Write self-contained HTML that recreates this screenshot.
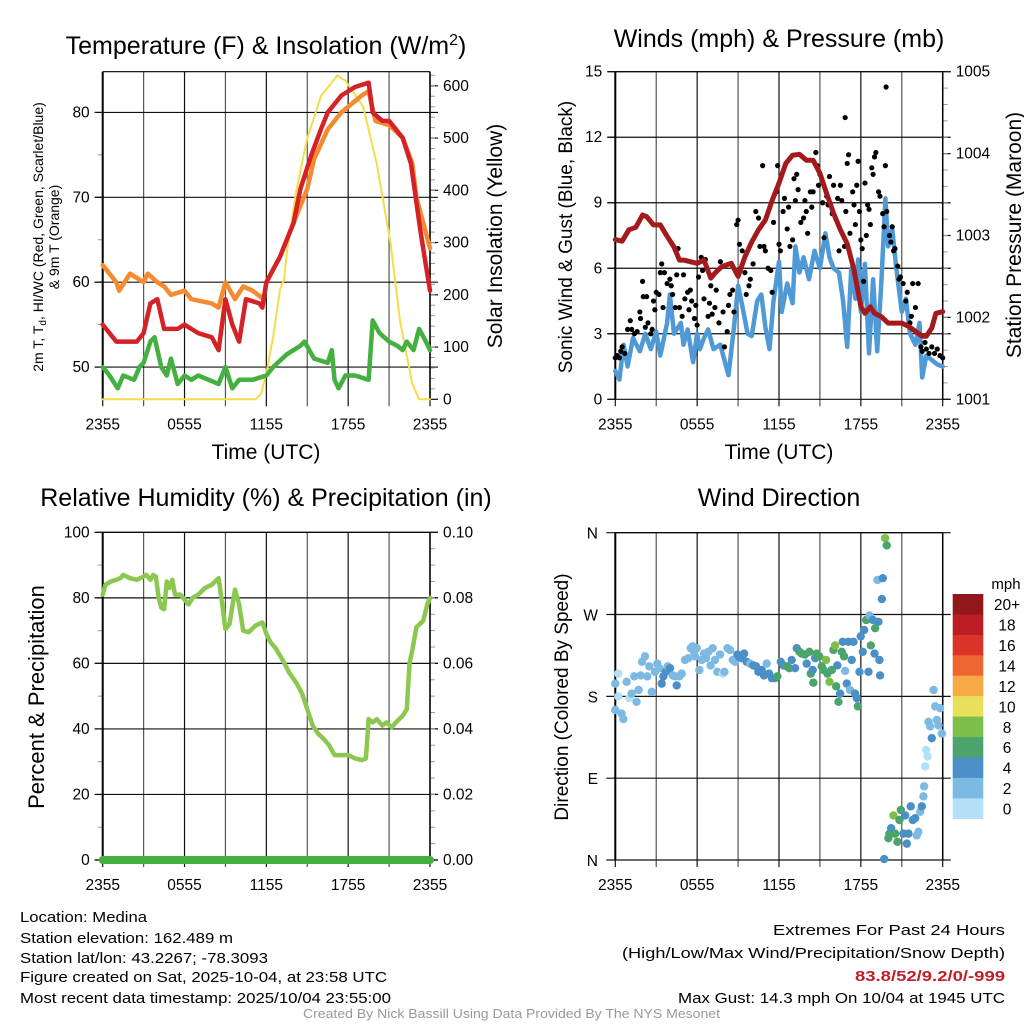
<!DOCTYPE html>
<html><head><meta charset="utf-8"><title>Medina Mesonet Meteogram</title>
<style>
html,body{margin:0;padding:0;background:#fff;}
svg{display:block;font-family:"Liberation Sans",Arial,sans-serif;}
</style></head>
<body>
<svg id="chart" width="1024" height="1024" viewBox="0 0 1024 1024" xmlns="http://www.w3.org/2000/svg">
<rect width="1024" height="1024" fill="#fff"/>
<g id="g1"></g>
<g id="g2"></g>
<g id="g3"></g>
<g id="g4"></g>
<text x="266" y="54" font-size="25" text-anchor="middle">Temperature (F) &amp; Insolation (W/m<tspan dy="-9" font-size="16">2</tspan><tspan dy="9">)</tspan></text>
<text x="779" y="47" font-size="25" text-anchor="middle">Winds (mph) &amp; Pressure (mb)</text>
<text x="266" y="506" font-size="25" text-anchor="middle">Relative Humidity (%) &amp; Precipitation (in)</text>
<text x="779" y="506" font-size="25" text-anchor="middle">Wind Direction</text>
<text x="266" y="459" font-size="21" text-anchor="middle">Time (UTC)</text>
<text x="779" y="459" font-size="21" text-anchor="middle">Time (UTC)</text>
<text transform="translate(43,237) rotate(-90)" font-size="14" text-anchor="middle">2m T, T<tspan dy="3" font-size="10">d</tspan><tspan dy="-3">, HI/WC (Red, Green, Scarlet/Blue)</tspan></text>
<text transform="translate(59,237) rotate(-90)" font-size="14" text-anchor="middle">&amp; 9m T (Orange)</text>
<text transform="translate(502,236) rotate(-90)" font-size="21" text-anchor="middle">Solar Insolation (Yellow)</text>
<text transform="translate(572,237) rotate(-90)" font-size="19" text-anchor="middle">Sonic Wind &amp; Gust (Blue, Black)</text>
<text transform="translate(1021,235) rotate(-90)" font-size="21" text-anchor="middle">Station Pressure (Maroon)</text>
<text transform="translate(44,697) rotate(-90)" font-size="22" text-anchor="middle">Percent &amp; Precipitation</text>
<text transform="translate(568,697) rotate(-90)" font-size="19" text-anchor="middle">Direction (Colored By Speed)</text>
<g id="cb"></g>
<text x="1006" y="589" font-size="15" text-anchor="middle">mph</text>
<g font-size="15">
<text x="20" y="922" textLength="127" lengthAdjust="spacingAndGlyphs">Location: Medina</text>
<text x="20" y="943" textLength="213" lengthAdjust="spacingAndGlyphs">Station elevation: 162.489 m</text>
<text x="20" y="963" textLength="248" lengthAdjust="spacingAndGlyphs">Station lat/lon: 43.2267; -78.3093</text>
<text x="20" y="982" textLength="367" lengthAdjust="spacingAndGlyphs">Figure created on Sat, 2025-10-04, at 23:58 UTC</text>
<text x="20" y="1003" textLength="371" lengthAdjust="spacingAndGlyphs">Most recent data timestamp: 2025/10/04 23:55:00</text>
</g>
<g font-size="15">
<text x="773" y="935" textLength="232" lengthAdjust="spacingAndGlyphs">Extremes For Past 24 Hours</text>
<text x="622" y="958" textLength="383" lengthAdjust="spacingAndGlyphs">(High/Low/Max Wind/Precipitation/Snow Depth)</text>
<text x="855" y="981" textLength="150" lengthAdjust="spacingAndGlyphs" font-weight="bold" fill="#c0202a">83.8/52/9.2/0/-999</text>
<text x="678" y="1003" textLength="327" lengthAdjust="spacingAndGlyphs">Max Gust: 14.3 mph On 10/04 at 1945 UTC</text>
</g>
<text x="303" y="1018" font-size="12.5" fill="#999" textLength="417" lengthAdjust="spacingAndGlyphs">Created By Nick Bassill Using Data Provided By The NYS Mesonet</text>
</svg>
<script>
// ---------- Panel 1 data ----------
const xTickLabels = ["2355","0555","1155","1755","2355"];
const tempTimes = [0,1,2.5,3,3.5,4,4.5,5.5,6,7,8,8.5,9,9.5,10,10.5,11.5,11.7,12,13,14,14.5,15.3,16,16.5,17.5,18.5,19.5,19.8,20.5,21,22,22.6,23.3,23.6,24];
const tempValues = [55,53,53,54,57.5,58,54.5,54.5,55,54,53.5,52,58,55,53,58,57.5,57,60,63,67,71,75,78,80,82,83,83.5,80,79,79,77,74,66,63,59];
const t9Times = [0,1,1.2,2,3,3.3,4,4.5,5,6,6.5,8,8.5,9,9.7,10.3,11,11.8,12,13,14,15,15.5,16.5,17.5,19,19.5,20,21,22,22.7,23,23.5,24];
const t9Values = [62,60,59,61,60,61,60,59.5,58.5,59,58,57.5,57,60,58,59.5,59,58,60,63,67,71,74.5,78,80,82,82.5,79,78.5,77,74,70,67,64];
const dewTimes = [0,0.5,1.1,1.5,2.3,2.7,3,3.5,3.8,4.3,4.7,5,5.5,6,6.5,7,8.5,9,9.5,10,11,12,12.5,13.5,14.5,14.8,15.5,16.5,16.8,17,17.3,17.8,18.5,19.5,19.8,20.3,21,21.6,22,22.3,22.8,23.2,23.7,24];
const dewValues = [50,49,47.5,49,48.5,50,50.5,53,53.5,50,49,51,48,49,48.5,49,48,50,47.5,48.5,48.5,49,50,51.5,52.5,53,51,50.5,52,48.5,47.5,49,49,48.5,55.5,54,53,52.5,52,53,52,54.5,53,52];
const solarTimes = [0,11.2,11.6,12,12.5,13,13.3,13.5,14.2,15,16,17.2,17.8,19.1,20.1,21.1,21.8,22.7,23.2,24];
const solarValues = [0,0,10,50,120,210,230,280,400,500,580,620,610,560,450,300,150,30,0,0];
// ---------- Panel 2 data ----------
const presTimes = [0,0.5,1,1.5,2,2.3,2.8,3.3,3.8,4.3,4.7,5,5.5,6,6.5,7,7.3,7.8,8.5,9,9.5,10,10.5,11,11.5,12,12.5,13,13.5,14,14.5,15,15.5,16,16.5,17,17.5,18,18.3,18.7,19,19.5,20,21,21.5,22,22.5,22.8,23.2,23.5,24];
const presValues = [1002.95,1002.93,1003.07,1003.1,1003.25,1003.23,1003.13,1003.13,1002.99,1002.86,1002.7,1002.7,1002.68,1002.66,1002.7,1002.48,1002.54,1002.62,1002.66,1002.5,1002.74,1002.92,1003.07,1003.19,1003.43,1003.64,1003.88,1003.98,1003.99,1003.92,1003.92,1003.76,1003.51,1003.27,1003.07,1002.9,1002.58,1002.13,1002.05,1002.13,1002.05,1002.01,1001.93,1001.93,1001.89,1001.83,1001.77,1001.77,1001.87,1002.05,1002.07];
const windTimes = [0,0.3,0.6,0.9,1.3,1.8,2.2,2.6,3,3.3,3.8,4,4.3,4.8,5,5.3,5.7,6,6.2,6.5,6.8,7.2,7.7,8,8.3,8.7,9,9.3,9.7,10,10.4,10.7,11,11.3,11.6,12,12.2,12.6,13,13.2,13.5,13.8,14.2,14.6,15,15.4,15.7,16,16.4,16.7,17,17.3,17.6,17.8,18,18.3,18.6,18.9,19.2,19.5,19.8,20,20.3,20.6,21,21.3,21.6,22,22.3,22.5,22.8,23.2,23.6,24];
const windValues = [1.3,0.9,2.5,1.5,2.8,2.2,3,2.3,3.1,2,3.5,4.8,3,3.5,2.5,3.2,1.7,3,2.3,2.8,3.2,2.3,2.5,1.8,1.1,3.3,5.2,4.3,3,2.9,4.5,4.8,3.3,2.3,4.5,6.3,4,5.3,4.4,7,5.8,6.5,5.5,6.8,6,7.6,6.5,6,5.8,4.5,2.4,6,4.6,6.4,4,6.2,2.1,5.5,2.2,5.3,9.2,7,7.8,6,4,4.6,3,2.5,3.5,1,2,1.8,1.6,1.5];
const gustTimes = [0,0.15,0.3,0.4,0.5,0.7,0.9,1.1,1.2,1.4,1.6,1.8,1.85,2,2.05,2.2,2.3,2.4,2.6,2.7,2.8,2.9,3,3.2,3.3,3.4,3.5,3.6,3.8,4,4.1,4.2,4.4,4.5,4.6,4.7,4.9,5,5.1,5.3,5.4,5.5,5.6,5.8,5.9,6,6.1,6.3,6.4,6.5,6.6,6.8,6.9,7,7.1,7.3,7.4,7.6,7.7,7.9,8,8.2,8.3,8.4,8.6,8.7,8.9,9,9.1,9.3,9.5,9.6,9.8,9.9,10.1,10.3,10.5,10.6,10.8,10.9,11,11.2,11.4,11.5,11.6,11.8,11.9,12,12.1,12.3,12.4,12.6,12.7,12.8,13,13.1,13.2,13.3,13.4,13.6,13.8,13.9,14,14.1,14.3,14.4,14.5,14.7,14.8,14.9,15,15.2,15.3,15.5,15.6,15.7,15.9,16,16.3,16.4,16.5,16.6,16.8,16.85,16.9,17,17.1,17.2,17.4,17.5,17.6,17.7,17.8,17.9,18,18.1,18.2,18.3,18.4,18.5,18.6,18.7,18.8,18.9,19,19.1,19.3,19.4,19.6,19.7,19.8,19.85,19.9,20.1,20.2,20.3,20.4,20.5,20.7,20.8,20.9,21.1,21.3,21.4,21.6,21.7,21.8,22,22.2,22.4,22.5,22.7,22.8,23,23.2,23.4,23.6,23.8,24];
const gustValues = [1.9,2,1.9,2.2,2.4,2.1,3.2,3.6,3.2,3,3.1,4,3.7,5.4,4.7,3.3,4.7,3.5,3,3.2,4.5,4.1,4.9,4.8,5.8,6.2,4.2,5.8,5.3,5.5,5.2,4.8,4.2,5.7,6.9,4.2,3.8,5.7,4.6,4.9,4.1,5,4.5,3.7,4.3,3.4,5.6,6.5,5.9,4.6,6.4,3.8,4.4,5.2,3.9,4.2,5,3.5,6.3,4,2.4,3.1,4.3,4.8,5,4,8,8.2,7.1,6.8,5.8,4.8,5.2,5.5,6.2,8.6,8.3,7,10.7,7,6.8,6,5.9,4.9,8.1,9.5,10.7,7.1,6.8,8.6,9.2,7.8,8.8,7,7.3,10.1,9.1,10.3,9.6,8.1,8.3,9.1,8.6,7.6,9.5,8.8,9.5,11.3,10.7,9.8,10.3,9,7.4,9.3,8.9,10.2,8.5,9.8,9.2,6.8,9.8,9.1,7,12.9,8.6,10.8,11.2,7.6,9.5,8.9,8,9.8,10.9,8.6,7.3,6.9,5.4,9.9,7.5,8.9,8.7,8,10.6,10.3,11.1,11.3,9.5,9.3,8.5,7.9,10.7,14.3,8.6,7.5,7.2,7.9,6.8,6.9,6.1,5.5,5.6,5.3,4.5,4.9,3.5,3.8,5.3,4.2,5.3,2.4,2.2,2.6,2.3,2.1,2.4,2.1,2.3,2,1.9];
// ---------- Panel 3 data ----------
const rhTimes = [0,0.2,0.6,1,1.3,1.5,2,2.5,3,3.2,3.5,3.7,3.9,4.1,4.3,4.5,4.7,4.9,5.1,5.3,5.7,6,6.3,6.6,7,7.5,8,8.5,8.8,9,9.3,9.7,10,10.3,10.7,11.2,11.7,12,12.3,12.7,13.2,13.7,14.2,14.6,15,15.4,15.8,16.2,16.6,17,17.5,18,18.5,19,19.3,19.5,19.8,20.1,20.5,20.8,21.2,21.5,22,22.3,22.5,22.7,23,23.5,23.8,24];
const rhValues = [81,84,85,85.5,86,87,86,85.5,86.5,87,85.5,87,86.5,80,77,76.5,85,83,85.5,81,81,79.5,78,80,81,83,84,86,77,70.5,72,82.5,78,70,69.5,71.5,72.5,69,66.5,64.5,61,57,54,51,46,41,38.5,37,35,32,32,32,31,30.5,31,43,42,43,41,42,40.5,42,44,46,60,64,71,73,78,80];
const precipTimes = [0,24];
const precipValues = [0,0];
// ---------- Panel 4 data ----------
const dirTimes = [0,0,0.22,0.22,0.46,0.59,0.83,1.03,1.2,1.39,1.56,1.71,1.86,1.96,2.18,2.35,2.49,2.67,2.91,3.08,3.23,3.4,3.52,3.69,3.84,4.01,4.21,4.38,4.5,4.69,4.87,5.11,5.35,5.53,5.67,5.77,5.84,5.97,6.16,6.33,6.5,6.65,6.82,6.99,7.14,7.31,7.48,7.68,7.87,8.0,8.22,8.41,8.61,8.78,8.95,9.1,9.27,9.44,9.63,9.88,10.12,10.32,10.49,10.73,10.9,11.1,11.27,11.47,11.71,11.88,12.13,12.32,12.57,12.76,12.93,13.18,13.3,13.5,13.67,13.91,14.03,14.23,14.33,14.47,14.52,14.65,14.77,14.96,15.13,15.26,15.45,15.55,15.7,15.87,15.99,16.11,16.19,16.28,16.36,16.48,16.6,16.67,16.77,16.85,16.97,17.09,17.21,17.33,17.46,17.58,17.7,17.78,17.9,17.99,18.14,18.24,18.39,18.56,18.63,18.73,18.88,19.0,19.05,19.22,19.29,19.36,19.41,19.54,19.61,19.71,19.78,19.9,20.02,20.1,20.22,20.39,20.51,20.68,20.83,20.93,21.12,21.25,21.37,21.49,21.66,21.81,21.98,22.1,22.22,22.35,22.47,22.59,22.64,22.71,22.79,22.89,22.96,23.08,23.2,23.33,23.45,23.57,23.69,23.81,23.94];
const dirValues = [165,194,205,180,161,155,196,178,183,202,174,187,203,218,224,202,213,185,207,216,211,194,202,207,213,211,203,202,192,202,205,220,222,233,235,229,224,233,209,220,227,222,229,214,233,220,207,226,205,207,233,231,220,218,226,223,222,227,218,216,214,213,207,209,203,216,205,200,200,202,218,214,213,211,220,211,233,229,227,226,216,229,205,209,195,222,227,224,213,209,220,205,196,209,231,236,191,214,174,183,229,240,224,208,194,240,187,220,240,183,178,169,207,246,229,253,264,207,269,236,264,227,255,308,262,220,203,287,310,1,354,346,24,29,35,49,29,20,44,55,29,49,18,29,59,44,46,27,31,53,59,70,81,103,121,114,152,147,134,187,169,154,148,167,139];
const dirSpeeds = [2.5,2.5,1.5,1.5,2.5,2.5,2.5,1.8,2.5,2.5,2.5,2.5,2.5,2.5,2.5,2.5,2.5,2.5,2.5,2.5,2.5,4.5,4.5,4.5,2.5,4.5,2.5,2.5,4.5,2.5,2.5,2.5,2.5,2.5,2.5,2.5,2.5,2.5,2.5,2.5,2.5,2.5,2.5,2.5,2.5,2.5,2.5,2.5,1.5,2.5,2.5,2.5,2.5,2.5,4.5,4.5,4.5,4.5,4.5,2.5,4.5,4.5,4.5,4.5,4.5,2.5,4.5,4.5,4.5,6.5,4.5,4.5,6.5,6.5,4.5,4.5,4.5,6.5,6.5,6.5,4.5,6.5,6.5,4.5,6.5,4.5,6.5,6.5,6.5,6.5,8.5,6.5,8.5,6.5,6.5,8.5,6.5,4.5,6.5,4.5,6.5,4.5,6.5,2.5,4.5,4.5,2.5,4.5,4.5,4.5,4.5,6.5,4.5,4.5,4.5,4.5,6.5,4.5,2.5,6.5,4.5,4.5,6.5,2.5,4.5,4.5,4.5,4.5,4.5,4.5,8.5,6.5,6.5,6.5,4.5,8.5,6.5,6.5,6.5,6.5,4.5,4.5,4.5,4.5,4.5,4.5,4.5,2.5,2.5,2.5,4.5,2.5,2.5,1.5,1.5,1.5,2.5,2.5,4.5,2.5,2.5,2.5,2.5,2.5,2.5];
const speedColors = ["#b3e0f7","#7cb9e3","#4a90c6","#4aa46c","#7cc04a","#e8e05a","#f6a946","#ee6630","#dc3328","#bc1d24","#92171a"];
const speedLabels = ["0","2","4","6","8","10","12","14","16","18","20+"];
const dirLabels = ["N","E","S","W","N"];
const dirTicks = [0,90,180,270,360];

const NS="http://www.w3.org/2000/svg";
function mk(tag, attrs, parent){const e=document.createElementNS(NS,tag);for(const k in attrs)e.setAttribute(k,attrs[k]);parent.appendChild(e);return e;}
function txt(str, attrs, parent){const e=mk("text",attrs,parent);e.textContent=str;return e;}

const L=102.7, R=430, L2=615.3, R2=942.7;
function xs(l,r){return h=>l+h/24*(r-l);}
function lin(d0,d1,b,t){return v=>b-(v-d0)/(d1-d0)*(b-t);}

function frame(g, l, r, t, b, leftMaj, leftMin, yL, leftFmt, rightMaj, rightMin, yR, rightFmt, gridY, hExt){
  const X=xs(l,r);
  for(let i=0;i<=8;i++){
    const x=X(i*3);
    const gl=mk("line",{x1:x,x2:x,y1:t,y2:b+7,stroke:(i%2?"#555":"#111"),"stroke-width":1.2},g);
    
    
  }
  xTickLabels.forEach((s,i)=>{
    const e=txt(s,{x:X(i*6),y:b+30,"font-size":15.5,"text-anchor":"middle"},g);
    
    
  });
  gridY.forEach(v=>{
    const y=yL(v);
    const e=mk("line",{x1:l-hExt[0],x2:r+hExt[1],y1:y,y2:y,stroke:"#111","stroke-width":1.2},g);
    
    
  });
  leftMaj.forEach(v=>{
    const y=yL(v);
    mk("line",{x1:l-8,x2:l,y1:y,y2:y,stroke:"#111","stroke-width":1.2},g);
    const e=txt(leftFmt(v),{x:l-13,y:y+5,"font-size":15.5,"text-anchor":"end"},g);
    
    
  });
  leftMin.forEach(v=>{const y=yL(v);mk("line",{x1:l-5,x2:l,y1:y,y2:y,stroke:"#999","stroke-width":1},g);});
  if(yR){
    rightMaj.forEach(v=>{
      const y=yR(v);
      mk("line",{x1:r,x2:r+8,y1:y,y2:y,stroke:"#111","stroke-width":1.2},g);
      const e=txt(rightFmt(v),{x:r+13,y:y+5,"font-size":15.5},g);
      
      
    });
    rightMin.forEach(v=>{const y=yR(v);mk("line",{x1:r,x2:r+5,y1:y,y2:y,stroke:"#999","stroke-width":1},g);});
  }
  mk("line",{x1:l,x2:l,y1:t,y2:b,stroke:"#000","stroke-width":2},g);
  mk("line",{x1:r,x2:r,y1:t,y2:b,stroke:"#000","stroke-width":1.5},g);
  mk("line",{x1:l,x2:r,y1:t,y2:t,stroke:"#000","stroke-width":1.2},g);
  return X;
}
function path(g, X, Y, ts, vs, color, w, name){
  const d=ts.map((t,i)=>(i?"L":"M")+X(t).toFixed(1)+","+Y(vs[i]).toFixed(1)).join("");
  const e=mk("path",{d:d,fill:"none",stroke:color,"stroke-width":w,"stroke-linejoin":"round","stroke-linecap":"round"},g);
  
  
  return e;
}
function range(a,b,s){const o=[];for(let v=a;v<=b+1e-9;v+=s)o.push(+v.toFixed(4));return o;}

// Panel 1
{
  const g=document.getElementById("g1"), t=71.7, b=399.3;
  const yT=lin(46.2,84.8,b,t), yS=lin(0,627,b,t);
  const X=frame(g,L,R,t,b,[50,60,70,80],[55,65,75],yT,v=>String(v),range(0,600,100),range(20,620,20),yS,v=>String(v),[50,60,70,80],[8,8]);
  path(g,X,yS,solarTimes,solarValues,"#f7dc4a",2,"solar-line");
  path(g,X,yT,dewTimes,dewValues,"#44b040",4.5,"dewpoint-line");
  path(g,X,yT,t9Times,t9Values,"#f58a30",4.5,"temp-9m-line");
  path(g,X,yT,tempTimes,tempValues,"#d42227",4.5,"temp-2m-line");
}
// Panel 2
{
  const g=document.getElementById("g2"), t=71.7, b=399.3;
  const yW=lin(0,15,b,t), yP=lin(1001,1005,b,t);
  const X=frame(g,L2,R2,t,b,range(0,15,3),[],yW,v=>String(v),range(1001,1005,1),range(1001.2,1004.8,0.2),yP,v=>String(v),range(0,15,3),[8,8]);
  path(g,X,yW,windTimes,windValues,"#4f9ad6",4.5,"sonic-wind-line");
  gustTimes.forEach((h,i)=>{
    const c=mk("circle",{cx:X(h),cy:yW(gustValues[i]),r:2.6,fill:"#000"},g);
    
    
  });
  path(g,X,yP,presTimes,presValues,"#a41a1c",5,"pressure-line");
}
// Panel 3
{
  const g=document.getElementById("g3"), t=532.3, b=860;
  const yR=lin(0,100,b,t), yPr=lin(0,0.1,b,t);
  const X=frame(g,L,R,t,b,range(0,100,20),range(10,90,20),yR,v=>String(v),range(0,0.1,0.02),range(0.005,0.095,0.005),yPr,v=>v.toFixed(2),range(0,100,20),[8,8]);
  path(g,X,yR,rhTimes,rhValues,"#8cc850",4.5,"humidity-line");
  path(g,X,yPr,precipTimes,precipValues,"#44b040",8,"precipitation-line");
}
// Panel 4
{
  const g=document.getElementById("g4"), t=532.7, b=860;
  const yD=lin(0,360,b,t);
  const X=frame(g,L2,R2,t,b,[],[],yD,v=>"",null,null,null,null,dirTicks,[9,8]);
  dirTicks.forEach((v,i)=>{
    const e=txt(dirLabels[i],{x:598,y:yD(v)+6,"font-size":15.5,"text-anchor":"end"},g);
    
    
  });
  dirTimes.forEach((h,i)=>{
    const bin=Math.min(10,Math.floor(dirSpeeds[i]/2));
    const c=mk("circle",{cx:X(h),cy:yD(dirValues[i]),r:4.2,fill:speedColors[bin]},g);
    
    
  });
}
// Colorbar
{
  const g=document.getElementById("cb"), top=594, bh=20.43;
  for(let i=0;i<11;i++){
    const k=10-i;
    const r=mk("rect",{x:952.7,y:top+i*bh,width:30.6,height:bh+0.3,fill:speedColors[k]},g);
    
    
    const e=txt(speedLabels[k],{x:1007,y:top+i*bh+bh/2+6,"font-size":15.5,"text-anchor":"middle"},g);
    
    
  }
}
</script>
</body></html>
